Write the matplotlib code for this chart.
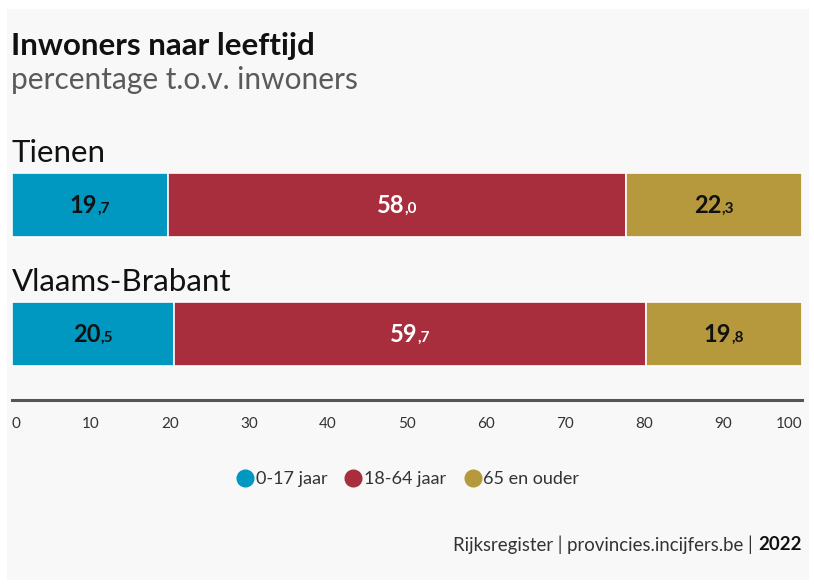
import matplotlib
matplotlib.use("Agg")
import matplotlib.pyplot as plt
from matplotlib.patches import Rectangle
from matplotlib.lines import Line2D

W, H = 814, 585
FONT = "Lato"

regions = ["Tienen", "Vlaams-Brabant"]
groups = ["0-17 jaar", "18-64 jaar", "65 en ouder"]
values = {
    "0-17 jaar": [19.7, 20.5],
    "18-64 jaar": [58.0, 59.7],
    "65 en ouder": [22.3, 19.8],
}
colors = ["#0097c1", "#a82e3e", "#b5993c"]
label_colors = ["#111111", "#ffffff", "#111111"]
ticks = [0, 10, 20, 30, 40, 50, 60, 70, 80, 90, 100]

plt.rcParams["font.family"] = [FONT, "DejaVu Sans"]

fig = plt.figure(figsize=(W / 100, H / 100), dpi=100)
fig.patch.set_facecolor("white")


def fx(px):
    return px / W


def fy(py):
    return 1 - py / H


fig.patches.append(Rectangle((fx(7), fy(580)), fx(802), 571 / H,
                             transform=fig.transFigure, facecolor="#f8f8f8",
                             edgecolor="none", zorder=-10))

ax = fig.add_axes([fx(12), fy(400), fx(790), (400 - 173) / H])
ax.set_facecolor("none")

left = [0.0, 0.0]
bar_h = 64 / 129
for g, c in zip(groups, colors):
    ax.barh(range(len(regions)), values[g], left=left, height=bar_h, color=c,
            edgecolor="white", linewidth=1.2)
    left = [l + v for l, v in zip(left, values[g])]

ax.set_xlim(0, 100)
ax.set_ylim(1 + 66 / 129, -32 / 129)
for s in ["top", "left", "right"]:
    ax.spines[s].set_visible(False)
ax.spines["bottom"].set_color("#555555")
ax.spines["bottom"].set_linewidth(2.2)
ax.set_yticks([])
ax.set_xticks(ticks)
ax.set_xticklabels([str(t) for t in ticks], fontsize=11, color="#333333")
ax.tick_params(axis="x", length=0, pad=12)
lbls = ax.get_xticklabels()
lbls[0].set_horizontalalignment("left")
lbls[-1].set_horizontalalignment("right")

for i, r in enumerate(regions):
    ax.text(0, i - 0.40, r, fontsize=22.5, color="#111111", va="center",
            ha="left", clip_on=False)

fig.canvas.draw()
renderer = fig.canvas.get_renderer()

# value labels: bold integer part + small decimal part
for i in range(len(regions)):
    start = 0.0
    for g, lc in zip(groups, label_colors):
        v = values[g][i]
        center = start + v / 2
        s = f"{v:.1f}".replace(".", ",")
        main, dec = s.split(",")
        t1 = ax.text(center, i + 0.06, main, fontsize=17, fontweight="bold",
                     color=lc, ha="left", va="baseline")
        t2 = ax.text(center, i + 0.06, "," + dec, fontsize=11,
                     fontweight="bold", color=lc, ha="left", va="baseline")
        b1 = t1.get_window_extent(renderer)
        b2 = t2.get_window_extent(renderer)
        total = b1.width + b2.width
        px_c = ax.transData.transform((center, 0))[0]
        x1 = px_c - total / 2
        inv = ax.transData.inverted()
        t1.set_x(inv.transform((x1, 0))[0])
        t2.set_x(inv.transform((x1 + b1.width, 0))[0])
        start += v

# title / subtitle
fig.text(fx(11), fy(46), "Inwoners naar leeftijd", fontsize=22.5,
         fontweight="bold", color="#111111", va="center", ha="left")
fig.text(fx(11), fy(80), "percentage t.o.v. inwoners", fontsize=21.5,
         fontweight="normal", color="#5a5a5a", va="center", ha="left")

# legend
handles = [Line2D([], [], marker="o", linestyle="none", markersize=12,
                  markerfacecolor=c, markeredgecolor=c) for c in colors]
fig.legend(handles, groups, loc="center", bbox_to_anchor=(fx(408), fy(479)),
           ncol=3, frameon=False, fontsize=13, handletextpad=0.15,
           columnspacing=1.0, handlelength=0.9, labelcolor="#333333")

# source
t_year = fig.text(fx(802), fy(545), "2022", fontsize=13.4, fontweight="bold",
                  color="#111111", ha="right", va="center")
by = t_year.get_window_extent(renderer)
fig.text((by.x0 - 1) / W, fy(545), "Rijksregister | provincies.incijfers.be | ",
         fontsize=13.4, color="#333333", ha="right", va="center")

fig.savefig("out.png", dpi=100, facecolor=fig.get_facecolor())
